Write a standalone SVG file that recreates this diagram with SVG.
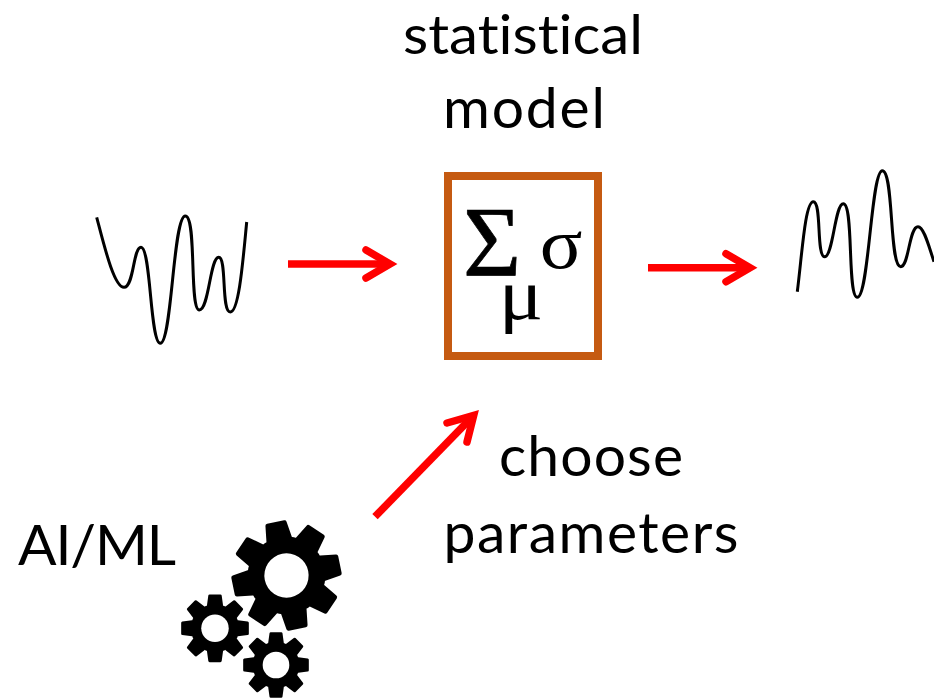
<svg xmlns="http://www.w3.org/2000/svg" width="934" height="698" viewBox="0 0 934 698">
<style>
.t{font-family:"Lato","Liberation Sans",sans-serif;font-size:57px;fill:#000;text-anchor:middle;font-variant-ligatures:none}
.g{font-family:"Liberation Serif",serif;fill:#000;text-anchor:middle}
.w{fill:none;stroke:#000;stroke-width:3;stroke-linecap:butt}
.a{fill:none;stroke:#f00;stroke-width:7.5;stroke-linejoin:miter;stroke-linecap:round;stroke-miterlimit:10}
.s{fill:none;stroke:#f00;stroke-width:7.5}
</style>
<defs>
<polygon id="tooth" points="-16,-97 16,-97 20,-68 -20,-68" fill="#000" stroke="#000" stroke-width="8" stroke-linejoin="round"/>
<g id="gear">
<circle r="72" fill="#000"/>
<use href="#tooth"/><use href="#tooth" transform="rotate(45)"/><use href="#tooth" transform="rotate(90)"/><use href="#tooth" transform="rotate(135)"/><use href="#tooth" transform="rotate(180)"/><use href="#tooth" transform="rotate(225)"/><use href="#tooth" transform="rotate(270)"/><use href="#tooth" transform="rotate(315)"/>
<circle r="41" fill="#fff"/>
</g>
</defs>
<rect width="934" height="698" fill="#fff"/>
<g id="label-model"><text class="t" x="523" y="53.5" style="font-size:54px" textLength="240" lengthAdjust="spacingAndGlyphs">statistical</text><text class="t" x="524" y="128" textLength="162">model</text></g>
<g id="input-signal"><path class="w" d="M96.7,217.3C104,245 114,287.3 124,287.3C134,287.3 133,247.3 141,247.3C151,247.3 150,343.3 160.3,343.3C172,343.3 173,216 185.3,216C197,216 189,310 199.3,310C209,310 210,257.3 218.7,257.3C227,257.3 221,312 230.3,312C239,312 243,260 246.7,222"/></g>
<g id="model-box"><rect x="448" y="176" width="150" height="180" fill="#fff" stroke="#C55A11" stroke-width="8"/>
<text class="g" x="492" y="275" font-size="100" stroke="#000" stroke-width=".7">Σ</text><text class="g" transform="translate(561,268) scale(1.1,1)" font-size="72">σ</text><text class="g" transform="translate(521,319) scale(1.15,1)" font-size="72">μ</text></g>
<g id="output-signal"><path class="w" d="M797.3,291.7C802,255 805,201.7 813.3,201.7C822,201.7 816,256.7 824.7,256.7C833,256.7 835,203.7 843.3,203.7C854,203.7 847,297.3 857.3,297.3C869,297.3 871,170.7 882.3,170.7C894,170.7 889,266.7 900.7,266.7C909,266.7 909,226.7 918,226.7C924,226.7 929,247 934,261.7"/></g>
<g id="connectors">
<path class="s" d="M288,264H390"/><path class="a" d="M366,250L390,264L366,278"/>
<path class="s" d="M648,267.7H750"/><path class="a" d="M726,253.7L750,267.7L726,281.7"/>
<path class="s" d="M375,516.7L473.7,415.3"/><path class="a" d="M447,423L473.7,415.3L467,442"/>
</g>
<g id="label-params"><text class="t" x="591" y="476" textLength="184">choose</text><text class="t" x="591" y="553" textLength="295">parameters</text></g>
<g id="label-ai"><text class="t" x="97" y="565" textLength="158">AI/ML</text></g>
<g id="gears">
<use href="#gear" transform="translate(286.5,575.5) rotate(-11.5) scale(.54)"/>
<use href="#gear" transform="translate(215,628.3) scale(.335)"/>
<use href="#gear" transform="translate(276,665) scale(.325)"/>
</g>
</svg>
